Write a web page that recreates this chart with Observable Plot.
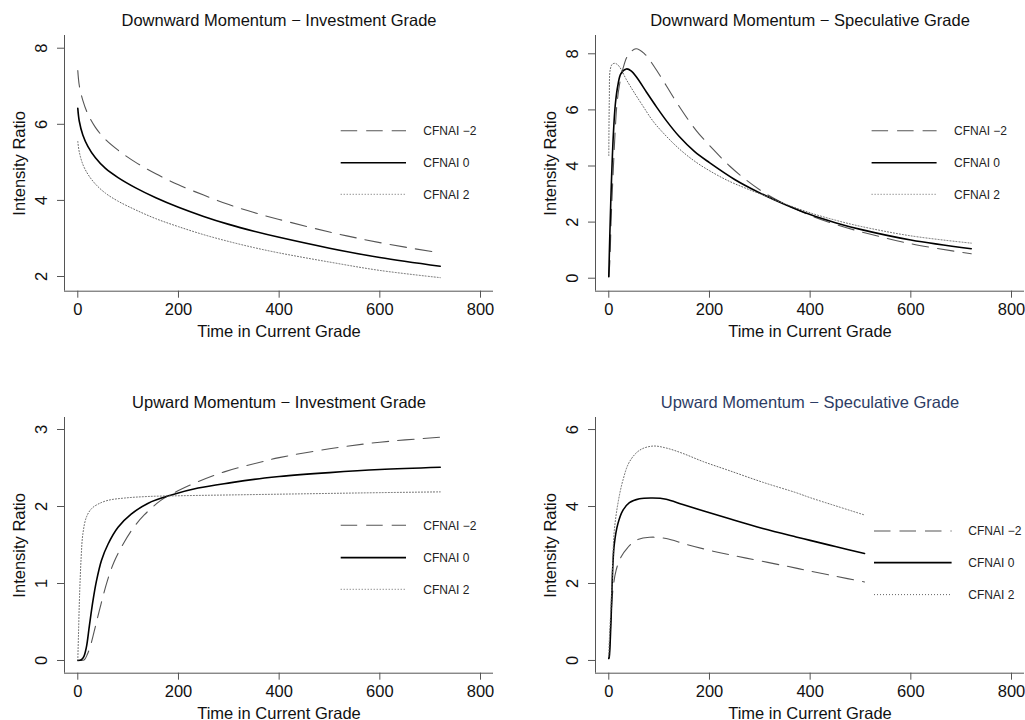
<!DOCTYPE html>
<html>
<head>
<meta charset="utf-8">
<script src="https://cdn.jsdelivr.net/npm/d3@7"></script>
<script src="https://cdn.jsdelivr.net/npm/@observablehq/plot@0.6"></script>
<style>
  body { margin: 0; background: #fff; }
  #wrap { position: relative; width: 1025px; height: 720px; overflow: hidden; background: #fff;
          font-family: "Liberation Sans", Arial, Helvetica, sans-serif; }
  .panel { position: absolute; width: 512px; height: 360px; }
</style>
</head>
<body>
<div id="wrap"></div>
<script>
// ---------- shared labels ----------
const seriesNames = ["CFNAI −2", "CFNAI 0", "CFNAI 2"];
const xTicks = [0, 200, 400, 600, 800];
const xLabel = "Time in Current Grade";
const yLabel = "Intensity Ratio";

// ---------- Panel 1: Downward Momentum – Investment Grade ----------
const dInv_x    = [0, 3, 10, 20, 35, 55, 80, 115, 155, 200, 250, 300, 350, 400, 500, 600, 720];
const dInv_m2_y = [7.41, 7.02, 6.63, 6.27, 5.92, 5.60, 5.32, 5.00, 4.70, 4.41, 4.14, 3.89, 3.68, 3.50, 3.17, 2.89, 2.62];
const dInv_0_y  = [6.42, 6.08, 5.72, 5.42, 5.12, 4.84, 4.60, 4.33, 4.07, 3.82, 3.58, 3.37, 3.19, 3.03, 2.745, 2.50, 2.27];
const dInv_p2_y = [5.55, 5.27, 4.95, 4.69, 4.43, 4.19, 3.98, 3.75, 3.52, 3.31, 3.10, 2.92, 2.76, 2.62, 2.38, 2.16, 1.97];
const dInv_yTicks = [2, 4, 6, 8];

// ---------- Panel 2: Downward Momentum – Speculative Grade ----------
const dSpec_m2_x = [0, 2, 5, 9, 12.5, 16, 21, 28, 38, 54, 71, 91, 114, 140, 173, 207, 240, 273, 306, 350, 400, 450, 500, 600, 720];
const dSpec_m2_y = [0.05, 0.57, 2.24, 3.9, 5.2, 6.16, 6.87, 7.46, 7.94, 8.18, 8.0, 7.52, 6.87, 6.12, 5.28, 4.6, 4.0, 3.5, 3.08, 2.64, 2.24, 1.92, 1.66, 1.23, 0.87];
const dSpec_0_x  = [0, 2, 5, 9, 13, 18, 24, 35, 45, 55, 75, 95, 115, 140, 170, 200, 250, 300, 350, 400, 450, 500, 600, 720];
const dSpec_0_y  = [0.05, 1.5, 3.3, 5.1, 6.2, 6.87, 7.29, 7.46, 7.38, 7.17, 6.63, 6.1, 5.6, 5.05, 4.52, 4.12, 3.52, 3.04, 2.63, 2.27, 1.98, 1.74, 1.36, 1.05];
const dSpec_p2_x = [0, 1, 3, 7, 12, 17, 24, 34, 48, 67, 87, 107, 140, 173, 207, 240, 273, 306, 350, 400, 450, 500, 600, 720];
const dSpec_p2_y = [4.37, 6.3, 7.45, 7.63, 7.66, 7.62, 7.46, 7.11, 6.69, 6.16, 5.62, 5.2, 4.61, 4.14, 3.76, 3.45, 3.2, 2.97, 2.65, 2.33, 2.07, 1.85, 1.51, 1.25];
const dSpec_yTicks = [0, 2, 4, 6, 8];

// ---------- Panel 3: Upward Momentum – Investment Grade ----------
const uInv_m2_x = [0, 6, 13, 19, 26, 36, 46, 59, 72, 89, 109, 132, 165, 198, 238, 291, 371, 400, 500, 600, 720];
const uInv_m2_y = [0, 0, 0.01, 0.08, 0.21, 0.47, 0.73, 1.04, 1.28, 1.50, 1.71, 1.89, 2.08, 2.20, 2.32, 2.45, 2.59, 2.635, 2.75, 2.835, 2.90];
const uInv_0_x  = [0, 7, 12, 17, 23, 30, 37, 47, 60, 80, 106, 139, 186, 239, 305, 371, 400, 500, 600, 720];
const uInv_0_y  = [0, 0.01, 0.05, 0.17, 0.45, 0.77, 1.03, 1.30, 1.51, 1.73, 1.90, 2.04, 2.15, 2.24, 2.31, 2.37, 2.39, 2.44, 2.48, 2.51];
const uInv_p2_x = [0, 1.4, 3.4, 6.7, 10, 17, 27, 40, 60, 93, 139, 205, 300, 400, 500, 600, 720];
const uInv_p2_y = [0, 0.34, 0.82, 1.34, 1.64, 1.86, 1.97, 2.03, 2.08, 2.11, 2.13, 2.14, 2.15, 2.16, 2.17, 2.18, 2.19];
const uInv_yTicks = [0, 1, 2, 3];

// ---------- Panel 4: Upward Momentum – Speculative Grade ----------
const uSpec_m2_x = [0, 1, 4, 8, 14.5, 24, 38, 54, 81, 114, 153, 207, 273, 372, 400, 450, 508];
const uSpec_m2_y = [0.05, 0.15, 1.0, 1.81, 2.34, 2.68, 2.94, 3.12, 3.20, 3.17, 3.02, 2.84, 2.66, 2.40, 2.32, 2.19, 2.04];
const uSpec_x    = [0, 1, 4.6, 7.9, 11, 18, 28, 41, 61, 87, 114, 147, 187, 240, 306, 372, 400, 450, 508];
const uSpec_0_y  = [0.05, 0.1, 1.12, 2.42, 3.03, 3.55, 3.90, 4.10, 4.20, 4.22, 4.19, 4.05, 3.89, 3.68, 3.43, 3.21, 3.12, 2.96, 2.78];
const uSpec_p2_y = [0.1, 0.5, 1.47, 2.6, 3.38, 4.07, 4.68, 5.16, 5.46, 5.57, 5.52, 5.38, 5.17, 4.93, 4.63, 4.36, 4.23, 4.02, 3.78];
const uSpec_yTicks = [0, 2, 4, 6];

// ---------- layout / style config ----------
const lineStyles = [
  { stroke: "#555", strokeWidth: 1.1, strokeDasharray: "16.5,9" },
  { stroke: "#000", strokeWidth: 1.6 },
  { stroke: "#666", strokeWidth: 1, strokeDasharray: "1,2" }
];
const axisColor = "#555";
const fontSize = 16.5;

const panels = [
  { left: 0, top: 0, title: "Downward Momentum − Investment Grade", titleColor: "#111",
    series: [[dInv_x, dInv_m2_y], [dInv_x, dInv_0_y], [dInv_x, dInv_p2_y]],
    yTicks: dInv_yTicks, yDomain: [1.614, 8.334],
    legend: { x1: 340.7, x2: 406, tx: 423.3, rows: [130.7, 162.7, 194.3] } },
  { left: 530.7, top: 0, title: "Downward Momentum − Speculative Grade", titleColor: "#111",
    series: [[dSpec_m2_x, dSpec_m2_y], [dSpec_0_x, dSpec_0_y], [dSpec_p2_x, dSpec_p2_y]],
    yTicks: dSpec_yTicks, yDomain: [-0.463, 8.652],
    legend: { x1: 340.6, x2: 405.6, tx: 423, rows: [130.7, 162.7, 194.3] } },
  { left: 0, top: 381.7, title: "Upward Momentum − Investment Grade", titleColor: "#111",
    series: [[uInv_m2_x, uInv_m2_y], [uInv_0_x, uInv_0_y], [uInv_p2_x, uInv_p2_y]],
    yTicks: uInv_yTicks, yDomain: [-0.165, 3.156],
    legend: { x1: 340.7, x2: 406, tx: 423.3, rows: [143.3, 175.6, 207.3] } },
  { left: 530.7, top: 381.7, title: "Upward Momentum − Speculative Grade", titleColor: "#2d3c64",
    series: [[uSpec_m2_x, uSpec_m2_y], [uSpec_x, uSpec_0_y], [uSpec_x, uSpec_p2_y]],
    yTicks: uSpec_yTicks, yDomain: [-0.331, 6.313],
    legend: { x1: 343, x2: 420.6, tx: 437.3, rows: [149, 180.6, 212.6] } }
];

const xDomain = [-26.4, 825.8];
const wrap = document.getElementById("wrap");

for (const cfg of panels) {
  const lineMarks = cfg.series.map(([xs, ys], i) =>
    Plot.line(xs.map((x, j) => ({ x, y: ys[j] })), { x: "x", y: "y", curve: "catmull-rom", ...lineStyles[i] })
  );
  const svg = Plot.plot({
    width: 512, height: 360,
    marginLeft: 64, marginRight: 19, marginTop: 35, marginBottom: 69.3,
    x: { domain: xDomain },
    y: { domain: cfg.yDomain },
    style: { fontFamily: "'Liberation Sans', Arial, Helvetica, sans-serif", fontSize: fontSize + "px",
             background: "transparent", overflow: "visible", color: "#000" },
    marks: [
      ...lineMarks,
      Plot.ruleX([xDomain[0]], { stroke: axisColor, strokeWidth: 1 }),
      Plot.ruleY([cfg.yDomain[0]], { stroke: axisColor, strokeWidth: 1 }),
      Plot.axisX({ ticks: xTicks, tickSize: 7, tickPadding: 5.5, tickFormat: d => String(d), label: null,
                   stroke: axisColor, fill: "#111", fontSize }),
      Plot.axisY({ ticks: cfg.yTicks, tickSize: 7, tickFormat: () => "", label: null, stroke: axisColor }),
      Plot.text(cfg.yTicks, { frameAnchor: "left", y: d => d, text: d => String(d), rotate: -90,
                              dx: -22.3, textAnchor: "middle", lineAnchor: "middle", fontSize, fill: "#111" }),
      Plot.text([cfg.title], { frameAnchor: "top", text: d => d, dy: -14.3, lineAnchor: "middle",
                               fontSize, fill: cfg.titleColor }),
      Plot.text([xLabel], { frameAnchor: "bottom", text: d => d, dy: 40.3, lineAnchor: "middle",
                            fontSize, fill: "#111" }),
      Plot.text([yLabel], { frameAnchor: "left", text: d => d, dx: -45, rotate: -90, lineAnchor: "middle",
                            textAnchor: "middle", fontSize, fill: "#111" })
    ]
  });

  // legend drawn inside the panel svg
  const g = d3.select(svg).append("g").attr("class", "legend").attr("text-anchor", "start");
  cfg.legend.rows.forEach((yy, i) => {
    const st = lineStyles[i];
    g.append("line")
      .attr("x1", cfg.legend.x1).attr("x2", cfg.legend.x2)
      .attr("y1", yy).attr("y2", yy)
      .attr("stroke", st.stroke).attr("stroke-width", st.strokeWidth)
      .attr("stroke-dasharray", st.strokeDasharray || null);
    g.append("text")
      .attr("x", cfg.legend.tx).attr("y", yy).attr("dy", "0.35em")
      .attr("text-anchor", "start")
      .attr("font-size", 12).attr("fill", "#222")
      .text(seriesNames[i]);
  });

  const div = document.createElement("div");
  div.className = "panel";
  div.style.left = cfg.left + "px";
  div.style.top = cfg.top + "px";
  div.appendChild(svg);
  wrap.appendChild(div);
}
</script>
</body>
</html>
